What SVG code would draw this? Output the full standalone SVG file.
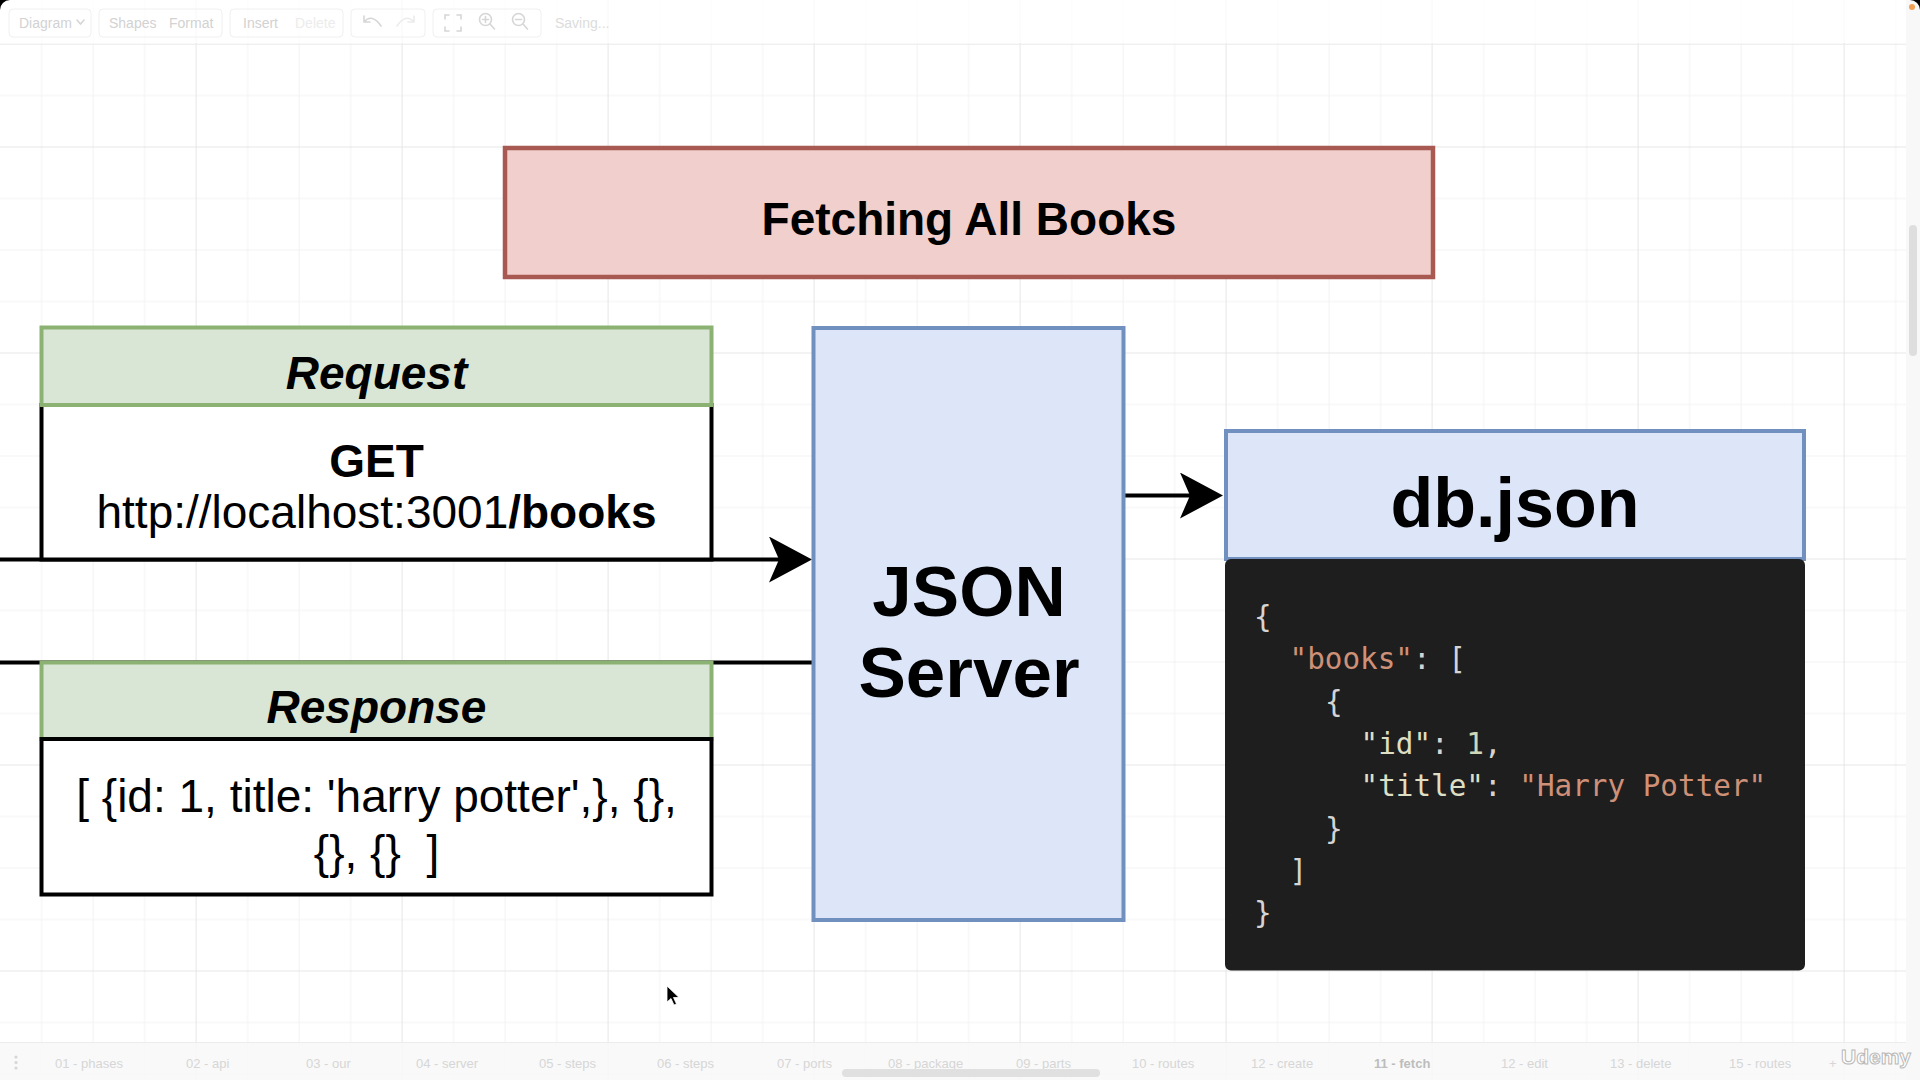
<svg xmlns="http://www.w3.org/2000/svg" width="1920" height="1080" viewBox="0 0 1920 1080">
<style>
.sans{font-family:"Liberation Sans",Arial,Helvetica,sans-serif}
.t46{font-size:46px}
.b{font-weight:bold}
.bi{font-weight:bold;font-style:italic}
.mono{font-family:"DejaVu Sans Mono","Liberation Mono",monospace;font-size:29.3px}
.pun{fill:#d4d4d4}
.str{fill:#ce9178}
.key{fill:#dedec4}
.num{fill:#cfd8b6}
.green{fill:#d9e6d5;stroke:#8bb272;stroke-width:4}
.white{fill:#ffffff;stroke:#000000;stroke-width:4}
.blue{fill:#dce6f8;stroke:#7090c0;stroke-width:4}
.conn{fill:none;stroke:#000000;stroke-width:4}
.ui{font-family:"Liberation Sans",Arial,sans-serif;font-size:14px;fill:#d2d2d2}
.tab{font-family:"Liberation Sans",Arial,sans-serif;font-size:13px;fill:#d6d6d6}
.uibox{fill:none;stroke:#f0f0f0;stroke-width:1}
.icon{fill:none;stroke:#d6d6d6;stroke-width:1.6;stroke-linecap:round}
</style>
<defs>
<pattern id="grid" patternUnits="userSpaceOnUse" x="195.6" y="146.5" width="206" height="206">
<path d="M52 0V206M103.5 0V206M155 0V206M0 52H206M0 103.5H206M0 155H206" stroke="#f2f2f2" stroke-width="1" fill="none"/>
<path d="M0.5 0V206M0 0.5H206" stroke="#e6e6e6" stroke-width="1" fill="none"/>
</pattern>
<marker id="arrow" markerUnits="userSpaceOnUse" viewBox="0 0 44 46" refX="10" refY="23" markerWidth="44" markerHeight="46" orient="auto">
<path d="M0,0 L43,23 L0,46 L10,23 Z" fill="#000000"/>
</marker>
</defs>

<rect x="0" y="0" width="1920" height="1080" fill="#ffffff"/>
<rect x="0" y="0" width="1920" height="1080" fill="url(#grid)"/>

<g id="toolbar">
<rect x="0" y="0" width="1906" height="43" fill="#ffffff" opacity="0.7"/>
<line x1="0" y1="44.5" x2="1906" y2="44.5" stroke="#efefef"/>
<rect class="uibox" x="9" y="9" width="82" height="28" rx="4"/>
<rect class="uibox" x="99" y="9" width="123" height="28" rx="4"/>
<rect class="uibox" x="230" y="9" width="113" height="28" rx="4"/>
<rect class="uibox" x="351" y="9" width="74" height="28" rx="4"/>
<rect class="uibox" x="433" y="9" width="108" height="28" rx="4"/>
<text class="ui" x="19" y="28">Diagram</text>
<path class="icon" d="M77 20 L80.5 24 L84 20"/>
<text class="ui" x="109" y="28">Shapes</text>
<text class="ui" x="169" y="28">Format</text>
<text class="ui" x="243" y="28">Insert</text>
<text class="ui" x="295" y="28" style="fill:#ececec">Delete</text>
<path class="icon" d="M364 22 Q372 13 381 26 M364 16 V22 H370"/>
<path class="icon" d="M414 22 Q406 13 397 26 M414 16 V22 H408" style="stroke:#ececec"/>
<path class="icon" d="M445 19 V15 H449 M457 15 H461 V19 M461 27 V31 H457 M449 31 H445 V27"/>
<circle class="icon" cx="485.5" cy="19.5" r="6"/>
<path class="icon" d="M490 24 L494.5 29 M485.5 16.5 V22.5 M482.5 19.5 H488.5"/>
<circle class="icon" cx="518.5" cy="19.5" r="6"/>
<path class="icon" d="M523 24 L527.5 29 M515.5 19.5 H521.5"/>
<text class="ui" x="555" y="28" style="fill:#dcdcdc">Saving...</text>
</g>

<g id="connectors">
<path class="conn" d="M0 559.5 H779" marker-end="url(#arrow)"/>
<path class="conn" d="M0 662.5 H813"/>
<path class="conn" d="M1125 495.5 H1190" marker-end="url(#arrow)"/>
</g>

<g id="title">
<rect x="505" y="148" width="928" height="129" fill="#f1cfcc" stroke="#a85a52" stroke-width="4.5"/>
<text class="sans t46 b" x="969" y="235" text-anchor="middle" fill="#000">Fetching All Books</text>
</g>

<g id="request">
<rect class="white" x="41.5" y="405" width="670" height="154.5"/>
<rect class="green" x="41.5" y="327.5" width="670" height="77.5"/>
<text class="sans t46 bi" x="376.5" y="389" text-anchor="middle" fill="#000">Request</text>
<text class="sans t46 b" x="376.5" y="477" text-anchor="middle" fill="#000">GET</text>
<text class="sans t46" x="376.5" y="528" text-anchor="middle" fill="#000">http://localhost:3001<tspan font-weight="bold">/books</tspan></text>
</g>

<g id="response">
<rect class="green" x="41.5" y="662.5" width="670" height="76.5"/>
<rect class="white" x="41.5" y="739" width="670" height="155.5"/>
<text class="sans t46 bi" x="376.5" y="723" text-anchor="middle" fill="#000">Response</text>
<text class="sans t46" x="376.5" y="812" text-anchor="middle" fill="#000">[ {id: 1, title: 'harry potter',}, {},</text>
<text class="sans t46" x="376.5" y="868" text-anchor="middle" fill="#000" xml:space="preserve">{}, {}  ]</text>
</g>

<g id="json-server">
<rect class="blue" x="813.5" y="328" width="310" height="592"/>
<text class="sans b" font-size="71" x="969" y="616" text-anchor="middle" fill="#000">JSON</text>
<text class="sans b" font-size="71" x="969" y="697" text-anchor="middle" fill="#000">Server</text>
</g>

<g id="db-json">
<rect class="blue" x="1226" y="431" width="578" height="128"/>
<text class="sans b" font-size="70" x="1515" y="527" text-anchor="middle" fill="#000">db.json</text>
</g>

<g id="code">
<rect x="1225" y="559" width="580" height="411.5" rx="6" fill="#1e1e1e"/>
<text class="mono" xml:space="preserve" x="1254" y="627"><tspan class="pun">{</tspan></text>
<text class="mono" xml:space="preserve" x="1289.5" y="669.3"><tspan class="str">"books"</tspan><tspan class="pun">: [</tspan></text>
<text class="mono" xml:space="preserve" x="1325" y="711.6"><tspan class="pun">{</tspan></text>
<text class="mono" xml:space="preserve" x="1360.5" y="753.9"><tspan class="key">"id"</tspan><tspan class="pun">: </tspan><tspan class="num">1</tspan><tspan class="pun">,</tspan></text>
<text class="mono" xml:space="preserve" x="1360.5" y="796.2"><tspan class="key">"title"</tspan><tspan class="pun">: </tspan><tspan class="str">"Harry Potter"</tspan></text>
<text class="mono" xml:space="preserve" x="1325" y="838.5"><tspan class="pun">}</tspan></text>
<text class="mono" xml:space="preserve" x="1289.5" y="880.8"><tspan class="pun">]</tspan></text>
<text class="mono" xml:space="preserve" x="1254" y="923.1"><tspan class="pun">}</tspan></text>
</g>

<g id="cursor">
<path d="M667 986 V1002 L671 998.5 L674 1005 L676.5 1004 L673.5 997.5 L679 997.5 Z" fill="#000" stroke="#fff" stroke-width="0.8"/>
</g>

<g id="right-panel">
<rect x="1906" y="0" width="14" height="1080" fill="#f8f8f8"/>
<rect x="1909" y="225" width="8" height="131" rx="4" fill="#dedede"/>
<circle cx="1912" cy="7" r="3" fill="#f0a050"/>
</g>

<g id="bottom-bar">
<rect x="0" y="1042" width="1906" height="38" fill="#f8f8f8" opacity="0.85"/>
<line x1="0" y1="1042.5" x2="1906" y2="1042.5" stroke="#ececec"/>
<circle cx="16" cy="1057" r="1.6" fill="#d6d6d6"/>
<circle cx="16" cy="1062.5" r="1.6" fill="#d6d6d6"/>
<circle cx="16" cy="1068" r="1.6" fill="#d6d6d6"/>
<text class="tab" x="55" y="1068">01 - phases</text>
<text class="tab" x="186" y="1068">02 - api</text>
<text class="tab" x="306" y="1068">03 - our</text>
<text class="tab" x="416" y="1068">04 - server</text>
<text class="tab" x="539" y="1068">05 - steps</text>
<text class="tab" x="657" y="1068">06 - steps</text>
<text class="tab" x="777" y="1068">07 - ports</text>
<text class="tab" x="888" y="1068">08 - package</text>
<text class="tab" x="1016" y="1068">09 - parts</text>
<text class="tab" x="1132" y="1068">10 - routes</text>
<text class="tab" x="1251" y="1068">12 - create</text>
<text class="tab" x="1374" y="1068" style="font-weight:bold;fill:#bdbdbd">11 - fetch</text>
<text class="tab" x="1501" y="1068">12 - edit</text>
<text class="tab" x="1610" y="1068">13 - delete</text>
<text class="tab" x="1729" y="1068">15 - routes</text>
<text class="tab" x="1829" y="1068">+</text>
<rect x="842" y="1069" width="258" height="8" rx="4" fill="#e0e0e0"/>
<text x="1841" y="1064" font-family="'Liberation Sans',Arial,sans-serif" font-size="21" font-weight="bold" fill="#ffffff" stroke="#b8b8b8" stroke-width="1">Udemy</text>
</g>

<g id="corners">
<path d="M0 0 H10 A10 10 0 0 0 0 10 Z" fill="#000"/>
<path d="M1920 0 H1910 A10 10 0 0 1 1920 10 Z" fill="#000"/>
</g>
</svg>
